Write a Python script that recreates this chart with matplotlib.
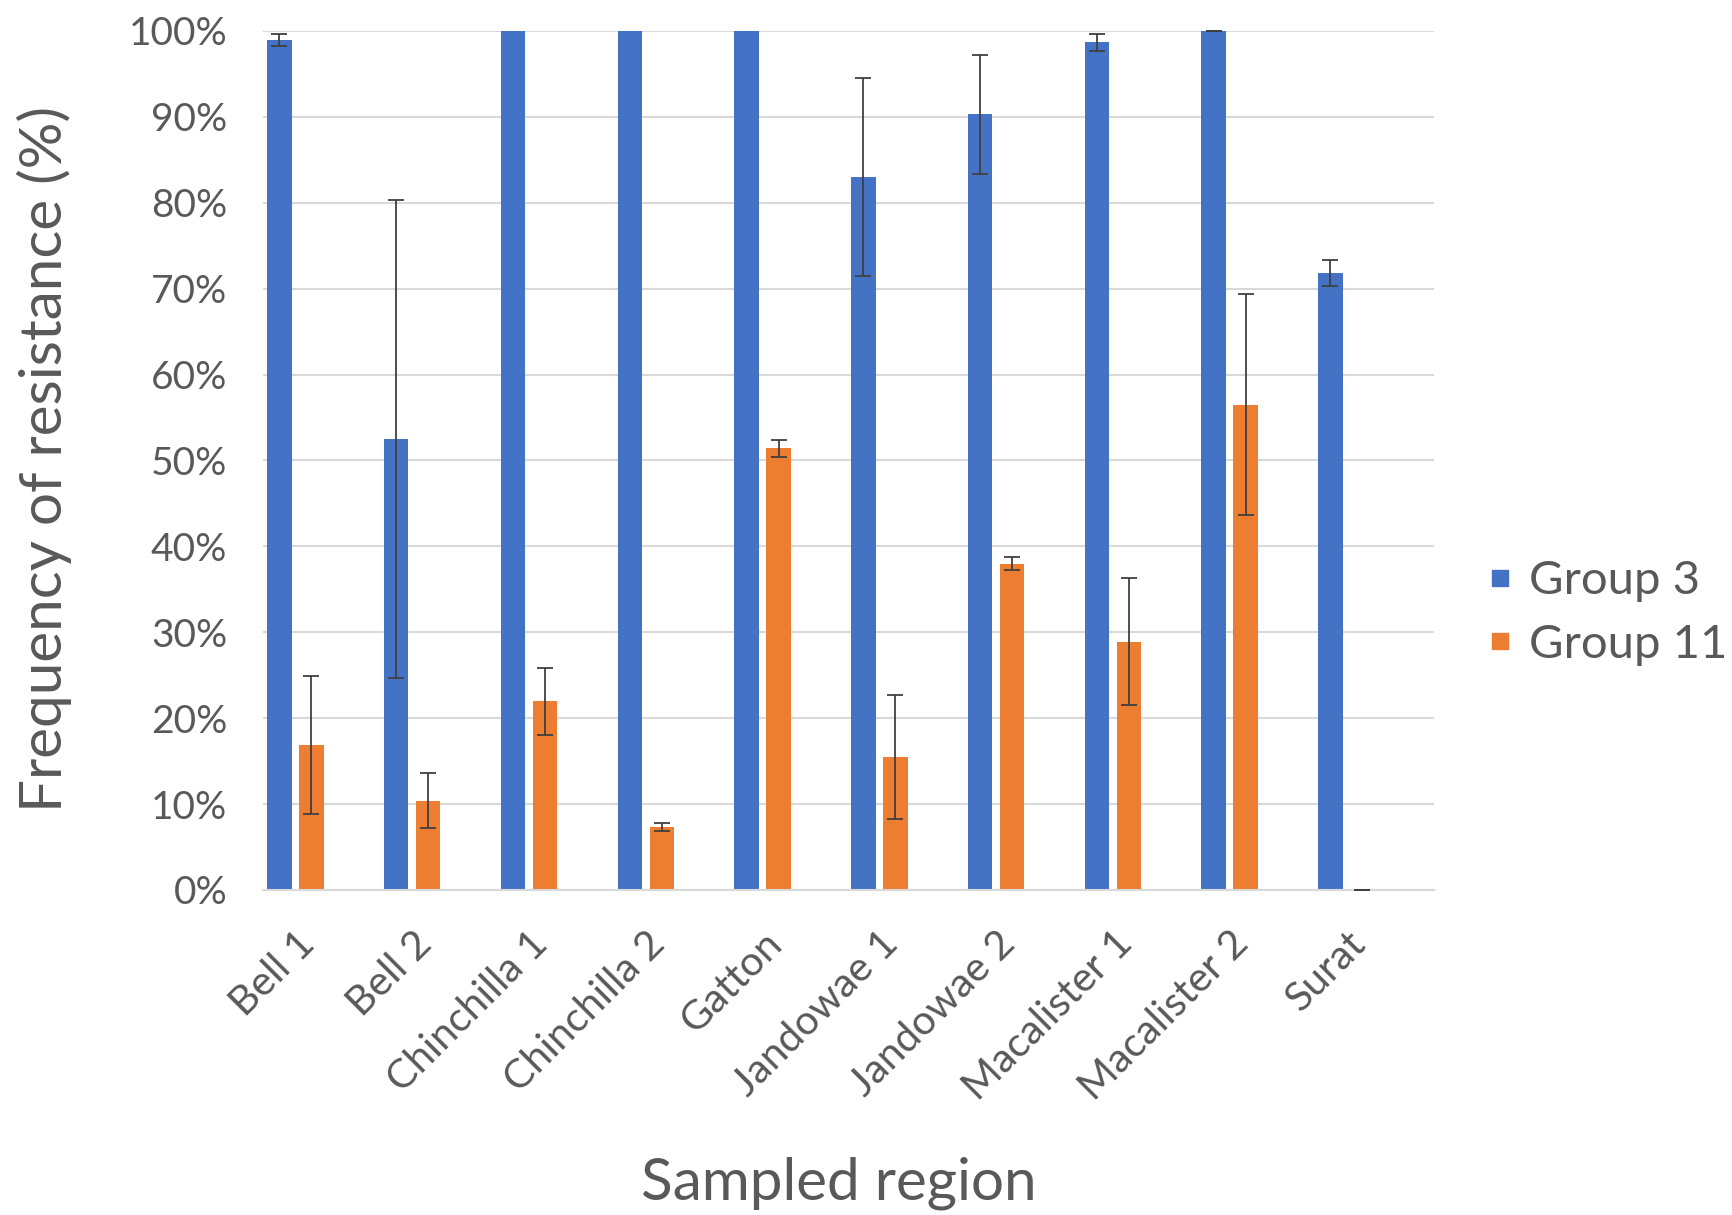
import numpy as np
import matplotlib.pyplot as plt
from matplotlib.lines import Line2D
from matplotlib.ticker import PercentFormatter

# data (percent)
regions = ["Bell 1", "Bell 2", "Chinchilla 1", "Chinchilla 2", "Gatton",
           "Jandowae 1", "Jandowae 2", "Macalister 1", "Macalister 2", "Surat"]
group3 = [98.9, 52.5, 100, 100, 100, 83.0, 90.3, 98.7, 100, 71.8]
group3_err = [0.7, 27.8, np.nan, np.nan, np.nan, 11.5, 6.9, 1.0, 0.0, 1.5]
group11 = [16.9, 10.4, 22.0, 7.3, 51.4, 15.5, 38.0, 28.9, 56.5, 0.0]
group11_err = [8.0, 3.2, 3.9, 0.45, 1.0, 7.2, 0.75, 7.4, 12.9, 0.0]

blue = "#4472C4"
orange = "#ED7D31"
grey_txt = "#595959"

plt.rcParams['font.family'] = ['Lato', 'DejaVu Sans']

fig = plt.figure(figsize=(17.33, 12.15), dpi=100)
ax = fig.add_axes([0.152, 0.2675, 0.6755, 0.707])

x = np.arange(len(regions))
w = 0.21
off = 0.137
err_style = dict(ecolor="#404040", elinewidth=1.3, capsize=6, capthick=1.3)

ax.bar(x - off, group3, w, color=blue, zorder=2)
ax.bar(x + off, group11, w, color=orange, zorder=2)
ax.errorbar(x - off, group3, yerr=group3_err, fmt="none", zorder=3, clip_on=False, **err_style)
ax.errorbar(x + off, group11, yerr=group11_err, fmt="none", zorder=3, clip_on=False, **err_style)

ax.set_xlim(-0.274, 9.75)
ax.set_ylim(0, 100)
ax.set_yticks(np.arange(0, 101, 10))
ax.yaxis.set_major_formatter(PercentFormatter(decimals=0))
ax.grid(axis="y", color="#D9D9D9", linewidth=1.5, zorder=0)
ax.set_axisbelow(True)

for s in ["top", "right", "left"]:
    ax.spines[s].set_visible(False)
ax.spines["bottom"].set_color("#D9D9D9")
ax.spines["bottom"].set_linewidth(1.5)

ax.set_xticks(x)
ax.set_xticklabels(regions, rotation=45, ha="right", rotation_mode="anchor")
ax.tick_params(axis="both", length=0, colors=grey_txt)
ax.tick_params(axis="x", labelsize=29.5, pad=25)
ax.tick_params(axis="y", labelsize=28, pad=26)

fig.text(0.0255, 0.622, "Frequency of resistance (%)", rotation=90, ha="center",
         va="center", fontsize=42, color=grey_txt)
fig.text(0.484, 0.026, "Sampled region", ha="center", va="center",
         fontsize=42, color=grey_txt)

handles = [Line2D([], [], marker="s", linestyle="none", color=blue, markersize=11),
           Line2D([], [], marker="s", linestyle="none", color=orange, markersize=11)]
leg = fig.legend(handles, ["Group 3", "Group 11"], loc="center left",
                 bbox_to_anchor=(0.8575, 0.4955), frameon=False, fontsize=34,
                 borderpad=0, borderaxespad=0, handletextpad=0.3,
                 labelspacing=0.45, handlelength=0.6)
for t in leg.get_texts():
    t.set_color(grey_txt)

fig.savefig("out.png", dpi=100, facecolor="white")
